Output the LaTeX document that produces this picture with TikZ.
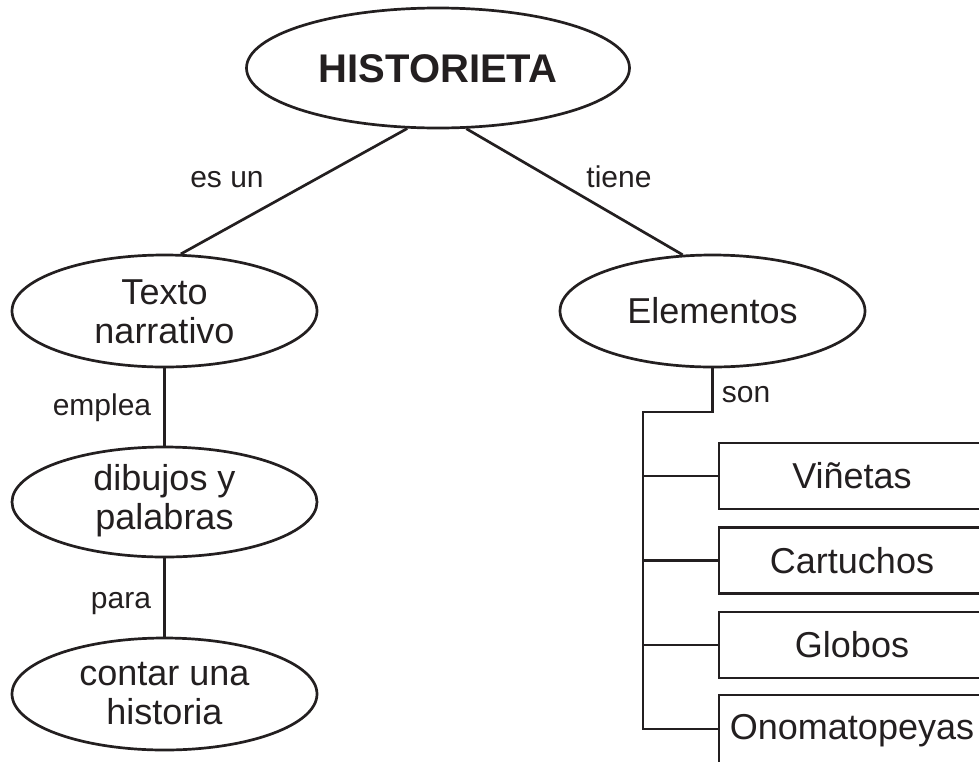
\documentclass[tikz,border=0pt]{standalone}
\usepackage{fontspec}
\setmainfont{Liberation Sans}
\usetikzlibrary{shapes.geometric}
\definecolor{ink}{RGB}{35,31,32}
\begin{document}
\begin{tikzpicture}[x=1pt,y=-1pt,
  ell/.style={ellipse, draw=ink, line width=2.7pt, inner sep=0pt},
  box/.style={rectangle, draw=ink, line width=2.7pt, minimum width=266pt, minimum height=66pt, inner sep=0pt,
    text=ink, font=\fontsize{36}{39.5}\selectfont},
  conn/.style={draw=ink, line width=2.7pt},
  maintxt/.style={text=ink, font=\fontsize{36}{39.5}\selectfont, anchor=base, inner sep=0pt},
  lbl/.style={text=ink, font=\fontsize{30}{33}\selectfont, anchor=base, inner sep=0pt},
  ttl/.style={text=ink, font=\bfseries\fontsize{40}{44}\selectfont, anchor=base, inner sep=0pt}]
\useasboundingbox (0,0) rectangle (979,761);
\clip (0,0) rectangle (979,761);

% ellipses
\node[ell, minimum width=383pt, minimum height=120pt] (hist) at (438,68) {};
\node[ttl] (histT) at (438,82) {HISTORIETA};

\node[ell, minimum width=305pt, minimum height=112pt] (tn) at (164.5,311) {};
\node[maintxt] (tnT) at (164.5,304) {\begin{tabular}[t]{@{}c@{}}Texto\\narrativo\end{tabular}};

\node[ell, minimum width=305pt, minimum height=110pt] (dib) at (164.5,502) {};
\node[maintxt] (dibT) at (164.5,490) {\begin{tabular}[t]{@{}c@{}}dibujos y\\palabras\end{tabular}};

\node[ell, minimum width=305pt, minimum height=112pt] (con) at (164.5,694) {};
\node[maintxt] (conT) at (164.5,685) {\begin{tabular}[t]{@{}c@{}}contar una\\historia\end{tabular}};

\node[ell, minimum width=305pt, minimum height=112pt] (el) at (712.5,311) {};
\node[maintxt] (elT) at (712.5,323) {Elementos};

% boxes
\node[box] (vi) at (852,476) {Viñetas};
\node[box] (ca) at (852,560.5) {Cartuchos};
\node[box] (gl) at (852,645) {Globos};
\node[box, minimum height=72pt] (on) at (852,731) {Onomatopeyas};

% connectors
\draw[conn] (hist.243.4) -- (tn.74.5);
\draw[conn] (hist.295.8) -- (el.118.6);
\draw[conn] (tn.south) -- (dib.north);
\draw[conn] (dib.south) -- (con.north);

\coordinate (bj) at (643,412);
\coordinate (bb) at (643,729);
\draw[conn] (el.south) |- (bj) -- (bb) -- (bb -| on.west);
\draw[conn] (bj |- vi.west) -- (vi.west);
\draw[conn] (bj |- ca.west) -- (ca.west);
\draw[conn] (bj |- gl.west) -- (gl.west);

% connector labels
\node[lbl] (l1) at (227,187) {es un};
\node[lbl] (l2) at (619,187) {tiene};
\node[lbl] (l3) at (102,415) {emplea};
\node[lbl] (l4) at (121,608) {para};
\node[lbl] (l5) at (746,402) {son};
\end{tikzpicture}
\end{document}
